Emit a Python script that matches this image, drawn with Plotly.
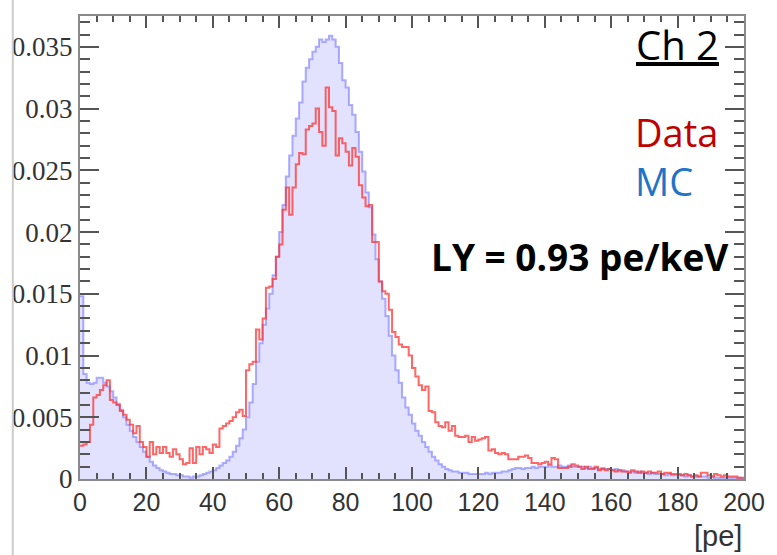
import plotly.graph_objects as go

# ---------------- data (1 pe bins from 0 to 200) ----------------
bin_edges = list(range(0, 201))

mc_values = [
    0.0148, 0.0085, 0.0078, 0.0077, 0.0078, 0.0082, 0.0082, 0.0078, 0.0075, 0.0071,
    0.0066, 0.0061, 0.0056, 0.0050, 0.0044, 0.0039, 0.0034, 0.0030, 0.0026, 0.0022,
    0.0018, 0.0014, 0.0011, 0.0009, 0.0007, 0.0006, 0.0005, 0.0004, 0.0004, 0.0003,
    0.0003, 0.0002, 0.0002, 0.0001, 0.0002, 0.0002, 0.0003, 0.0004, 0.0005, 0.0006,
    0.0007, 0.0009, 0.0011, 0.0013, 0.0015, 0.0018, 0.0022, 0.0027, 0.0033, 0.0040,
    0.0050, 0.0062, 0.0077, 0.0095, 0.0110, 0.0125, 0.0138, 0.0150, 0.0165, 0.0180,
    0.0200, 0.0222, 0.0245, 0.0262, 0.0278, 0.0292, 0.0305, 0.0322, 0.0333, 0.0340,
    0.0346, 0.0350, 0.0356, 0.0354, 0.0356, 0.0359, 0.0356, 0.0350, 0.0337, 0.0323,
    0.0317, 0.0303, 0.0295, 0.0281, 0.0265, 0.0249, 0.0232, 0.0220, 0.0198, 0.0178,
    0.0160, 0.0146, 0.0132, 0.0116, 0.0100, 0.0088, 0.0078, 0.0066, 0.0058, 0.0052,
    0.0045, 0.0039, 0.0035, 0.0030, 0.0026, 0.0022, 0.0018, 0.0015, 0.0012, 0.0010,
    0.0008, 0.0007, 0.0006, 0.0006, 0.0005, 0.0005, 0.0005, 0.0004, 0.0004, 0.0004,
    0.0004, 0.0004, 0.0005, 0.0004, 0.0005, 0.0005, 0.0005, 0.0006, 0.0006, 0.0007,
    0.0008, 0.0009, 0.0009, 0.0008, 0.0009, 0.0009, 0.0010, 0.0009, 0.0010, 0.0010,
    0.0010, 0.0011, 0.0010, 0.0010, 0.0011, 0.0010, 0.0010, 0.0011, 0.0010, 0.0010,
    0.0010, 0.0010, 0.0009, 0.0010, 0.0009, 0.0009, 0.0008, 0.0009, 0.0008, 0.0008,
    0.0007, 0.0008, 0.0007, 0.0007, 0.0006, 0.0006, 0.0006, 0.0005, 0.0006, 0.0005,
    0.0005, 0.0004, 0.0005, 0.0004, 0.0004, 0.0004, 0.0003, 0.0004, 0.0003, 0.0003,
    0.0003, 0.0003, 0.0002, 0.0003, 0.0002, 0.0002, 0.0002, 0.0002, 0.0002, 0.0001,
    0.0002, 0.0001, 0.0001, 0.0001, 0.0001, 0.0001, 0.0001, 0.0001, 0.0001, 0.00005,
]

data_values = [
    0.0027, 0.0028, 0.0030, 0.0044, 0.0066, 0.0068, 0.0072, 0.0076, 0.0080, 0.0064,
    0.0062, 0.0060, 0.0055, 0.0052, 0.0048, 0.0044, 0.0037, 0.0043, 0.0030, 0.0026,
    0.0018, 0.0030, 0.0020, 0.0026, 0.0021, 0.0026, 0.0021, 0.0018, 0.0024, 0.0020,
    0.0016, 0.0012, 0.0013, 0.0025, 0.0013, 0.0026, 0.0020, 0.0026, 0.0024, 0.0021,
    0.0028, 0.0026, 0.0041, 0.0043, 0.0045, 0.0047, 0.0050, 0.0054, 0.0056, 0.0051,
    0.0088, 0.0093, 0.0095, 0.0121, 0.0113, 0.0130, 0.0155, 0.0156, 0.0162, 0.0180,
    0.0190, 0.0218, 0.0236, 0.0214, 0.0236, 0.0255, 0.0264, 0.0263, 0.0283, 0.0286,
    0.0288, 0.0300, 0.0281, 0.0270, 0.0317, 0.0301, 0.0298, 0.0262, 0.0276, 0.0272,
    0.0265, 0.0254, 0.0268, 0.0261, 0.0238, 0.0228, 0.0221, 0.0222, 0.0192, 0.0192,
    0.0160, 0.0152, 0.0150, 0.0137, 0.0119, 0.0115, 0.0109, 0.0107, 0.0107, 0.0100,
    0.0090, 0.0083, 0.0076, 0.0072, 0.0075, 0.0055, 0.0054, 0.0046, 0.0043, 0.0042,
    0.0046, 0.0039, 0.0043, 0.0035, 0.0034, 0.0034, 0.0035, 0.0030, 0.0034, 0.0031,
    0.0032, 0.0033, 0.0034, 0.0023, 0.0024, 0.0021, 0.0020, 0.0021, 0.0020, 0.0016,
    0.0016, 0.0016, 0.0018, 0.0018, 0.0019, 0.0017, 0.0013, 0.0013, 0.0012, 0.0013,
    0.0014, 0.0012, 0.0017, 0.0016, 0.0009, 0.0009, 0.0009, 0.0010, 0.0012, 0.0011,
    0.0010, 0.0008, 0.0010, 0.0008, 0.0008, 0.0010, 0.0007, 0.0008, 0.0007, 0.0008,
    0.0007, 0.0006, 0.0007, 0.0006, 0.0006, 0.0005, 0.0007, 0.0006, 0.0005, 0.0006,
    0.0005, 0.0006, 0.0005, 0.0005, 0.0006, 0.0004, 0.0005, 0.0005, 0.0004, 0.0004,
    0.0004, 0.0003, 0.0004, 0.0003, 0.0002, 0.0003, 0.0002, 0.0005, 0.0005, 0.0003,
    0.0002, 0.0004, 0.0003, 0.0002, 0.0003, 0.0002, 0.0002, 0.0002, 0.0001, 0.0001,
]

x_tick_vals = [0, 20, 40, 60, 80, 100, 120, 140, 160, 180, 200]
x_tick_text = ["0", "20", "40", "60", "80", "100", "120", "140", "160", "180", "200"]
y_tick_vals = [0, 0.005, 0.01, 0.015, 0.02, 0.025, 0.03, 0.035]
y_tick_text = ["0", "0.005", "0.01", "0.015", "0.02", "0.025", "0.03", "0.035"]

# step-histogram helper: repeat last value so the last bin closes at the right edge
mc_y = mc_values + [mc_values[-1]]
data_y = data_values + [data_values[-1]]

fig = go.Figure()
fig.add_trace(go.Scatter(
    x=bin_edges, y=mc_y, mode="lines", line_shape="hv",
    line=dict(color="rgba(120,120,255,0.6)", width=2),
    fill="tozeroy", fillcolor="rgba(150,150,250,0.28)",
    hoverinfo="skip", showlegend=False,
))
fig.add_trace(go.Scatter(
    x=bin_edges, y=data_y, mode="lines", line_shape="hv",
    line=dict(color="rgba(255,45,45,0.72)", width=2),
    hoverinfo="skip", showlegend=False,
))

fig.update_layout(
    width=777, height=555,
    margin=dict(l=78, r=27, t=16, b=76),
    paper_bgcolor="white", plot_bgcolor="white",
    xaxis=dict(
        range=[0, 200], tickvals=x_tick_vals, ticktext=x_tick_text,
        ticks="inside", ticklen=12, tickwidth=2, tickcolor="#555555",
        minor=dict(dtick=5, ticks="inside", ticklen=6, tickwidth=2, tickcolor="#555555"),
        showline=True, linecolor="#8a8a8a", linewidth=2, mirror="ticks",
        showgrid=False, zeroline=False,
        tickfont=dict(family="Liberation Sans", size=25, color="#333333"),
    ),
    yaxis=dict(
        range=[0, 0.0375], tickvals=y_tick_vals, ticktext=y_tick_text,
        ticks="inside", ticklen=19, tickwidth=2, tickcolor="#555555",
        minor=dict(dtick=0.001, ticks="inside", ticklen=10, tickwidth=2, tickcolor="#555555"),
        showline=True, linecolor="#8a8a8a", linewidth=2, mirror="ticks",
        showgrid=False, zeroline=False,
        tickfont=dict(family="Liberation Serif", size=27, color="#333333"),
    ),
    shapes=[dict(type="line", xref="paper", yref="paper",
                 x0=-0.1012, x1=-0.1012, y0=-0.2, y1=1.1,
                 line=dict(color="#cccccc", width=2))],
    annotations=[
        dict(text="<u>Ch 2</u>", xref="paper", yref="paper", x=0.9654, y=0.9374,
             xanchor="right", yanchor="middle", showarrow=False,
             font=dict(family="Open Sans", size=40, color="black")),
        dict(text="<span style='color:#c00000'>Data</span><br>"
                  "<span style='color:#1f74c8'>MC</span>",
             xref="paper", yref="paper", x=0.8333, y=0.6976,
             xanchor="left", yanchor="middle", align="left", showarrow=False,
             font=dict(family="Open Sans", size=38, color="#c00000")),
        dict(text="<b>LY = 0.93 pe/keV</b>", xref="paper", yref="paper", x=0.9800, y=0.4816,
             xanchor="right", yanchor="middle", showarrow=False,
             font=dict(family="Open Sans", size=37, color="black")),
        dict(text="[pe]", xref="paper", yref="paper", x=1.0, y=-0.1231,
             xanchor="right", yanchor="middle", showarrow=False,
             font=dict(family="Liberation Sans", size=29, color="#333333")),
    ],
)

fig.write_html("out.html")
